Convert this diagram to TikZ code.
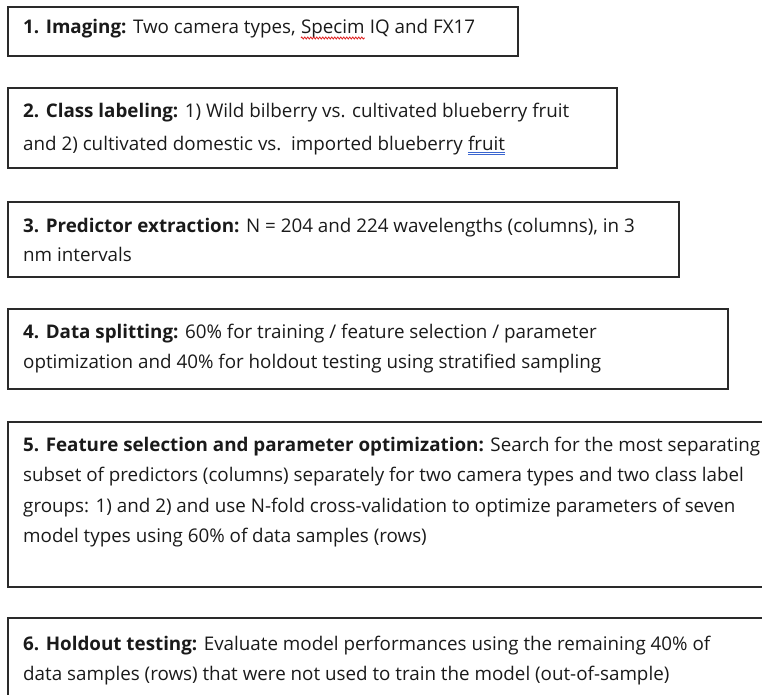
\documentclass[tikz,border=0pt]{standalone}
\usepackage{fontspec}
\setmainfont{Open Sans}
\usetikzlibrary{decorations.pathmorphing}
\definecolor{txt}{HTML}{1A1A1A}
\definecolor{frame}{HTML}{2A2A2A}
\definecolor{spellred}{HTML}{E02020}
\definecolor{gramblue}{HTML}{3A66D0}
\newlength\spc
\newcommand\linefont{\fontsize{18.8}{30}\selectfont}
\begin{document}
\settowidth{\spc}{\linefont\ }%
\begin{tikzpicture}[x=1pt,y=-1pt,
  stepframe/.style={draw=frame,line width=1.2pt},
  ln/.style={anchor=base west,inner sep=0pt,text=txt,font=\linefont},
  wavy/.style={draw=spellred,line width=0.8pt,decorate,decoration={snake,amplitude=1pt,segment length=3pt}},
  dbl/.style={draw=gramblue,line width=0.7pt}]
\useasboundingbox (0,0) rectangle (762,695);
% frames
\draw[stepframe] (8,7) rectangle (518,56);
\draw[stepframe] (8,88) rectangle (617,168);
\draw[stepframe] (8,202) rectangle (679,277);
\draw[stepframe] (8,309) rectangle (728,389);
\draw[stepframe] (8,422) rectangle (780,587);
\draw[stepframe] (8,618) rectangle (780,710);
% box 1
\node[ln] (a1) at (23,34) {\textbf{1. Imaging:} Two camera types,};
\node[ln] (a2) at ([xshift=\spc]a1.base east) {Specim};
\node[ln] (a3) at ([xshift=\spc]a2.base east) {IQ and FX17};
\draw[wavy] ([yshift=-4pt]a2.base west) -- ([yshift=-4pt]a2.base east);
% box 2
\node[ln] (b1) at (23,118) {\textbf{2. Class labeling:} 1) Wild bilberry vs. cultivated blueberry fruit};
\node[ln] (b2) at (23,150) {and 2) cultivated domestic vs.\ \ imported blueberry};
\node[ln] (b3) at ([xshift=\spc]b2.base east) {fruit};
\draw[dbl] ([yshift=-2.5pt]b3.base west) -- ([yshift=-2.5pt]b3.base east);
\draw[dbl] ([yshift=-4.7pt]b3.base west) -- ([yshift=-4.7pt]b3.base east);
% box 3
\node[ln] (c1) at (23,232) {\textbf{3. Predictor extraction:} N = 204 and 224 wavelengths (columns), in 3};
\node[ln] (c2) at (23,261) {nm intervals};
% box 4
\node[ln] (d1) at (23,338) {\textbf{4. Data splitting:} 60\% for training / feature selection / parameter};
\node[ln] (d2) at (23,368) {optimization and 40\% for holdout testing using stratified sampling};
% box 5
\node[ln] (e1) at (23,451) {\textbf{5. Feature selection and parameter optimization:} Search for the most separating};
\node[ln] (e2) at (23,481.5) {subset of predictors (columns) separately for two camera types and two class label};
\node[ln] (e3) at (23,512) {groups: 1) and 2) and use N-fold cross-validation to optimize parameters of seven};
\node[ln] (e4) at (23,542.5) {model types using 60\% of data samples (rows)};
% box 6
\node[ln] (f1) at (23,650) {\textbf{6. Holdout testing:} Evaluate model performances using the remaining 40\% of};
\node[ln] (f2) at (23,680) {data samples (rows) that were not used to train the model (out-of-sample)};
\end{tikzpicture}
\end{document}
